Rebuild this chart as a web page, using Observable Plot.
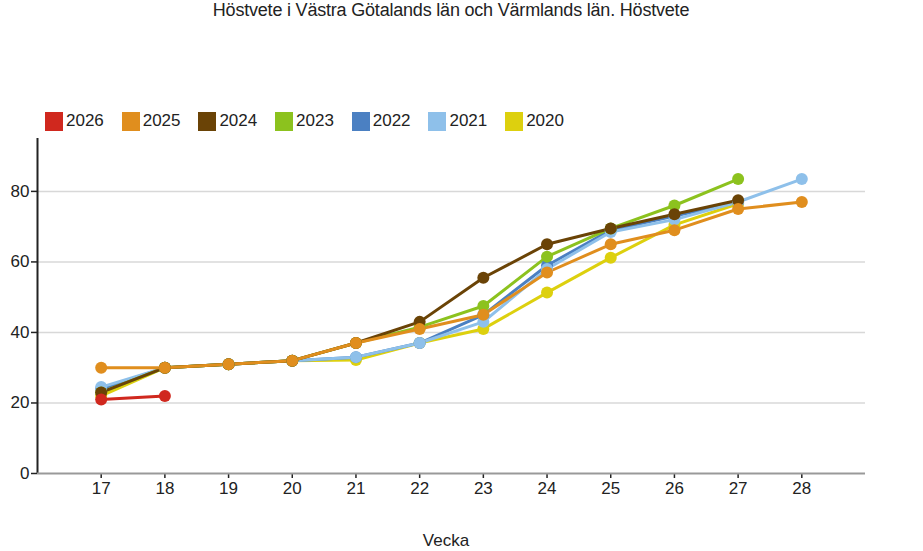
<!DOCTYPE html>
<html>
<head>
<meta charset="utf-8">
<script src="https://cdn.jsdelivr.net/npm/d3@7"></script>
<script src="https://cdn.jsdelivr.net/npm/@observablehq/plot@0.6"></script>
<style>
  html, body { margin: 0; padding: 0; background: #fff; }
  #wrap { position: relative; width: 923px; height: 551px; font-family: "Liberation Sans", Arial, sans-serif; color: #222; overflow: hidden; }
  #title { position: absolute; left: 0; width: 902px; top: -1px; text-align: center; font-size: 18px; line-height: 22px; letter-spacing: -0.2px; }
  #legend { position: absolute; left: 45px; top: 111px; display: flex; font-size: 17px; line-height: 20px; }
  .item { display: flex; align-items: center; width: 76.7px; }
  .sw { width: 18px; height: 19px; margin-right: 3px; }
  #xlabel { position: absolute; left: 0; width: 892px; top: 530px; text-align: center; font-size: 17px; line-height: 22px; }
  #chart { position: absolute; left: 0; top: 0; }
</style>
</head>
<body>
<div id="wrap">
  <div id="chart"></div>
  <div id="title">Höstvete i Västra Götalands län och Värmlands län. Höstvete</div>
  <div id="legend"></div>
  <div id="xlabel">Vecka</div>
</div>
<script>
const weeks = [17, 18, 19, 20, 21, 22, 23, 24, 25, 26, 27, 28];
const years = ["2026", "2025", "2024", "2023", "2022", "2021", "2020"];
const colors = ["#d0281e", "#e08e1e", "#6a4306", "#8cc21e", "#4b80c2", "#8ec0ea", "#ddd00e"];
const v2026 = [21, 22];
const v2025 = [30, 30, 31, 32, 37, 41, 45, 57, 65, 69, 75, 77];
const v2024 = [23, 30, 31, 32, 37, 43, 55.5, 65, 69.5, 73.5, 77.5];
const v2023 = [23, 30, 31, 32, 37, 41.5, 47.5, 61.5, 69.5, 76, 83.5];
const v2022 = [24, 30, 31, 32, 33, 37, 45, 59, 69, 73, 77];
const v2021 = [24.5, 30, 31, 32, 33, 37, 43, 58, 68.5, 72, 77, 83.5];
const v2020 = [22, 30, 31, 32, 32.2, 37, 41, 51.3, 61.2, 70.5, 76.5];
const yTicks = [0, 20, 40, 60, 80];
// stacking order (bottom to top)
const drawOrder = ["2020", "2022", "2021", "2023", "2024", "2025", "2026"];

const seriesValues = {"2026": v2026, "2025": v2025, "2024": v2024, "2023": v2023, "2022": v2022, "2021": v2021, "2020": v2020};
const data = [];
drawOrder.forEach(y => {
  seriesValues[y].forEach((v, i) => data.push({year: y, week: weeks[i], value: v}));
});

const leg = document.getElementById("legend");
years.forEach((y, i) => {
  const it = document.createElement("div");
  it.className = "item";
  it.innerHTML = `<div class="sw" style="background:${colors[i]}"></div><span>${y}</span>`;
  leg.appendChild(it);
});

const chart = Plot.plot({
  width: 923,
  height: 551,
  marginLeft: 37,
  marginRight: 58,
  marginTop: 138,
  marginBottom: 78,
  style: {fontFamily: "Liberation Sans, Arial, sans-serif", fontSize: "17px", color: "#222", background: "transparent", overflow: "visible"},
  x: {domain: [16, 29]},
  y: {domain: [0, 95]},
  color: {domain: years, range: colors},
  marks: [
    Plot.gridY(yTicks.filter(d => d > 0), {stroke: "#d8d8d8", strokeOpacity: 1, strokeWidth: 1.5}),
    Plot.axisY(yTicks, {tickSize: 6, tickPadding: 2, label: null, stroke: "#222", strokeWidth: 1.5}),
    Plot.axisX(weeks, {tickSize: 5, tickPadding: 3, label: null, stroke: "#222", strokeWidth: 1.5, tickFormat: d => String(d)}),
    Plot.ruleX([16], {stroke: "#222", strokeWidth: 2}),
    Plot.ruleY([0], {stroke: "#999", strokeWidth: 2}),
    Plot.line(data, {x: "week", y: "value", z: "year", stroke: "year", strokeWidth: 3}),
    Plot.dot(data, {x: "week", y: "value", fill: "year", r: 6})
  ]
});
document.getElementById("chart").appendChild(chart);
</script>
</body>
</html>
